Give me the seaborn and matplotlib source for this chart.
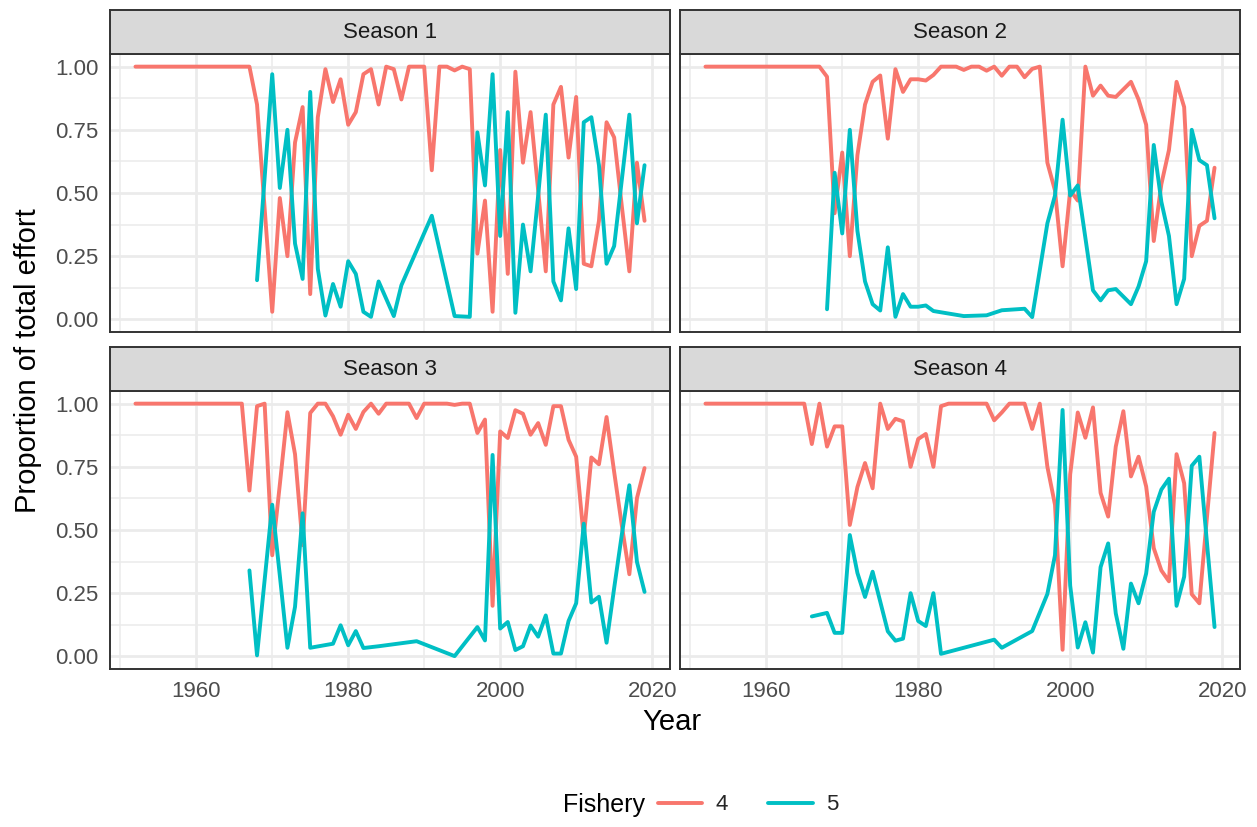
import numpy as np
import pandas as pd
import matplotlib
matplotlib.use("Agg")
import matplotlib.pyplot as plt
import seaborn as sns
from matplotlib.lines import Line2D
from matplotlib.ticker import FixedLocator

sns.set_theme(style="white")
plt.rcParams['font.family'] = ['Liberation Sans', 'DejaVu Sans']

seasons = ["Season 1", "Season 2", "Season 3", "Season 4"]
fisheries = ["4", "5"]
fishery_colors = ["#F8766D", "#00BFC4"]

x_major = [1960, 1980, 2000, 2020]
x_minor = [1950, 1970, 1990, 2010]
y_major = [0.0, 0.25, 0.5, 0.75, 1.0]
y_minor = [0.125, 0.375, 0.625, 0.875]
y_labels = ["0.00", "0.25", "0.50", "0.75", "1.00"]

# ---------------- Season 1 ----------------
s1_f4_years = list(range(1952, 2020))
s1_f4 = [1.0, 1.0, 1.0, 1.0, 1.0, 1.0, 1.0, 1.0, 1.0, 1.0,
         1.0, 1.0, 1.0, 1.0, 1.0, 1.0,
         0.85, 0.44, 0.03, 0.48, 0.25, 0.70, 0.84, 0.10, 0.80, 0.99,
         0.86, 0.95, 0.77, 0.82, 0.97, 0.99, 0.85, 1.00, 0.99, 0.87,
         1.00, 1.00, 1.00, 0.59, 1.00, 1.00, 0.985, 1.00, 0.99, 0.26,
         0.47, 0.03, 0.67, 0.18, 0.98, 0.62, 0.82, 0.51, 0.19, 0.85,
         0.92, 0.64, 0.88, 0.22, 0.21, 0.39, 0.78, 0.72, 0.45, 0.19,
         0.62, 0.39]
s1_f5_years = [1968, 1969, 1970, 1971, 1972, 1973, 1974, 1975, 1976, 1977,
               1978, 1979, 1980, 1981, 1982, 1983, 1984, 1986, 1987, 1991,
               1994, 1996, 1997, 1998, 1999, 2000, 2001, 2002, 2003, 2004,
               2005, 2006, 2007, 2008, 2009, 2010, 2011, 2012, 2013, 2014,
               2015, 2016, 2017, 2018, 2019]
s1_f5 = [0.155, 0.56, 0.97, 0.52, 0.75, 0.30, 0.16, 0.90, 0.20, 0.015,
         0.14, 0.05, 0.23, 0.18, 0.03, 0.01, 0.15, 0.013, 0.135, 0.41,
         0.013, 0.01, 0.74, 0.53, 0.97, 0.33, 0.82, 0.026, 0.375, 0.19,
         0.49, 0.81, 0.15, 0.075, 0.36, 0.12, 0.78, 0.80, 0.61, 0.22,
         0.29, 0.55, 0.81, 0.38, 0.61]

# ---------------- Season 2 ----------------
s2_f4_years = list(range(1952, 2020))
s2_f4 = [1.0, 1.0, 1.0, 1.0, 1.0, 1.0, 1.0, 1.0, 1.0, 1.0,
         1.0, 1.0, 1.0, 1.0, 1.0, 1.0,
         0.96, 0.42, 0.66, 0.25, 0.65, 0.85, 0.94, 0.965, 0.715, 0.99,
         0.90, 0.95, 0.95, 0.945, 0.967, 1.00, 1.00, 1.00, 0.987, 1.00,
         1.00, 0.984, 1.00, 0.964, 1.00, 1.00, 0.958, 0.991, 1.00, 0.62,
         0.51, 0.21, 0.51, 0.47, 1.00, 0.885, 0.925, 0.885, 0.88, 0.91,
         0.94, 0.87, 0.77, 0.31, 0.535, 0.67, 0.94, 0.84, 0.25, 0.37,
         0.39, 0.60]
s2_f5_years = [1968, 1969, 1970, 1971, 1972, 1973, 1974, 1975, 1976, 1977,
               1978, 1979, 1980, 1981, 1982, 1986, 1989, 1991, 1994, 1995,
               1997, 1998, 1999, 2000, 2001, 2003, 2004, 2005, 2006, 2007,
               2008, 2009, 2010, 2011, 2012, 2013, 2014, 2015, 2016, 2017,
               2018, 2019]
s2_f5 = [0.04, 0.58, 0.34, 0.75, 0.35, 0.15, 0.06, 0.035, 0.285, 0.01,
         0.10, 0.05, 0.05, 0.055, 0.033, 0.013, 0.016, 0.036, 0.042, 0.009,
         0.38, 0.49, 0.79, 0.49, 0.53, 0.115, 0.075, 0.115, 0.12, 0.09,
         0.06, 0.13, 0.23, 0.69, 0.465, 0.33, 0.06, 0.16, 0.75, 0.63,
         0.61, 0.40]

# ---------------- Season 3 ----------------
s3_f4_years = list(range(1952, 2020))
s3_f4 = [1.0, 1.0, 1.0, 1.0, 1.0, 1.0, 1.0, 1.0, 1.0, 1.0,
         1.0, 1.0, 1.0, 1.0, 1.0,
         0.656, 0.99, 1.00, 0.40, 0.68, 0.966, 0.80, 0.44, 0.963, 1.00,
         1.00, 0.95, 0.877, 0.956, 0.90, 0.967, 1.00, 0.96, 1.00, 1.00,
         1.00, 1.00, 0.943, 1.00, 1.00, 1.00, 1.00, 0.995, 1.00, 1.00,
         0.884, 0.937, 0.20, 0.89, 0.864, 0.974, 0.96, 0.877, 0.923, 0.837,
         0.99, 0.99, 0.857, 0.79, 0.47, 0.787, 0.76, 0.947, 0.73, 0.52,
         0.325, 0.626, 0.745]
s3_f5_years = [1967, 1968, 1970, 1971, 1972, 1973, 1974, 1975, 1978, 1979,
               1980, 1981, 1982, 1984, 1989, 1994, 1997, 1998, 1999, 2000,
               2001, 2002, 2003, 2004, 2005, 2006, 2007, 2008, 2009, 2010,
               2011, 2012, 2013, 2014, 2015, 2016, 2017, 2018, 2019]
s3_f5 = [0.34, 0.004, 0.60, 0.32, 0.034, 0.196, 0.566, 0.034, 0.05, 0.123,
         0.044, 0.10, 0.033, 0.04, 0.06, 0.001, 0.116, 0.063, 0.797, 0.11,
         0.136, 0.025, 0.04, 0.122, 0.078, 0.162, 0.011, 0.011, 0.14, 0.21,
         0.525, 0.213, 0.236, 0.054, 0.27, 0.48, 0.677, 0.374, 0.255]

# ---------------- Season 4 ----------------
s4_f4_years = list(range(1952, 2020))
s4_f4 = [1.0, 1.0, 1.0, 1.0, 1.0, 1.0, 1.0, 1.0, 1.0, 1.0,
         1.0, 1.0, 1.0, 1.0,
         0.84, 1.00, 0.83, 0.91, 0.91, 0.52, 0.67, 0.765, 0.665, 1.00,
         0.90, 0.94, 0.93, 0.75, 0.86, 0.88, 0.75, 0.99, 1.00, 1.00,
         1.00, 1.00, 1.00, 1.00, 0.934, 0.965, 1.00, 1.00, 1.00, 0.90,
         1.00, 0.75, 0.60, 0.026, 0.72, 0.965, 0.865, 0.985, 0.647, 0.553,
         0.83, 0.97, 0.712, 0.79, 0.672, 0.428, 0.34, 0.297, 0.80, 0.685,
         0.246, 0.21, 0.55, 0.884]
s4_f5_years = [1966, 1968, 1969, 1970, 1971, 1972, 1973, 1974, 1976, 1977,
               1978, 1979, 1980, 1981, 1982, 1983, 1990, 1991, 1995, 1997,
               1998, 1999, 2000, 2001, 2002, 2003, 2004, 2005, 2006, 2007,
               2008, 2009, 2010, 2011, 2012, 2013, 2014, 2015, 2016, 2017,
               2018, 2019]
s4_f5 = [0.158, 0.172, 0.093, 0.093, 0.48, 0.33, 0.235, 0.335, 0.099, 0.062,
         0.07, 0.25, 0.14, 0.12, 0.25, 0.01, 0.066, 0.034, 0.10, 0.247,
         0.40, 0.975, 0.28, 0.035, 0.135, 0.015, 0.353, 0.447, 0.17, 0.03,
         0.288, 0.21, 0.328, 0.572, 0.66, 0.703, 0.20, 0.315, 0.754, 0.79,
         0.45, 0.116]

series = {
    ("Season 1", "4"): (s1_f4_years, s1_f4),
    ("Season 1", "5"): (s1_f5_years, s1_f5),
    ("Season 2", "4"): (s2_f4_years, s2_f4),
    ("Season 2", "5"): (s2_f5_years, s2_f5),
    ("Season 3", "4"): (s3_f4_years, s3_f4),
    ("Season 3", "5"): (s3_f5_years, s3_f5),
    ("Season 4", "4"): (s4_f4_years, s4_f4),
    ("Season 4", "5"): (s4_f5_years, s4_f5),
}
frames = []
for (season, fish), (yrs, vals) in series.items():
    d = pd.DataFrame({"Year": yrs, "Proportion": vals})
    d["Season"] = season
    d["Fishery"] = fish
    frames.append(d)
df = pd.concat(frames, ignore_index=True)

W, H = 1257, 827
fig = plt.figure(figsize=(W / 100, H / 100), dpi=100)
fig.patch.set_facecolor("white")

col_x = [110, 680]
panel_w = 560
row_top = [54, 391]
panel_h = 278
strip_h = 44
border_col = "#333333"
palette = dict(zip(fisheries, fishery_colors))
small_fs = 16
title_fs = 21
legend_title_fs = 18

for i, season in enumerate(seasons):
    r, c = divmod(i, 2)
    x0 = col_x[c]
    y0 = row_top[r]
    ax = fig.add_axes([x0 / W, 1 - (y0 + panel_h) / H, panel_w / W, panel_h / H])
    sub = df[df["Season"] == season]
    sns.lineplot(data=sub, x="Year", y="Proportion", hue="Fishery",
                 hue_order=fisheries, palette=palette, ax=ax,
                 linewidth=2.8, legend=False, estimator=None, sort=True)
    ax.set_xlim(1948.65, 2022.35)
    ax.set_ylim(-0.05, 1.05)
    ax.xaxis.set_major_locator(FixedLocator(x_major))
    ax.xaxis.set_minor_locator(FixedLocator(x_minor))
    ax.yaxis.set_major_locator(FixedLocator(y_major))
    ax.yaxis.set_minor_locator(FixedLocator(y_minor))
    ax.set_yticklabels(y_labels)
    ax.grid(which="major", color="#EBEBEB", linewidth=2.0)
    ax.grid(which="minor", color="#EBEBEB", linewidth=1.1)
    ax.set_axisbelow(True)
    ax.set_facecolor("white")
    for sp in ax.spines.values():
        sp.set_color(border_col)
        sp.set_linewidth(1.4)
    ax.set_xlabel("")
    ax.set_ylabel("")
    ax.tick_params(which="minor", length=0)
    ax.tick_params(which="major", length=5, width=1.2, color=border_col,
                   labelcolor="#4D4D4D", labelsize=small_fs, pad=3.5)
    if r == 0:
        ax.tick_params(axis="x", which="major", length=0, labelbottom=False)
    if c == 1:
        ax.tick_params(axis="y", which="major", length=0, labelleft=False)

    sax = fig.add_axes([x0 / W, 1 - y0 / H, panel_w / W, strip_h / H])
    sax.set_facecolor("#D9D9D9")
    sax.set_xticks([])
    sax.set_yticks([])
    for sp in sax.spines.values():
        sp.set_color(border_col)
        sp.set_linewidth(1.4)
    sax.text(0.5, 0.5, season, ha="center", va="center", fontsize=small_fs,
             color="#1A1A1A", transform=sax.transAxes)

fig.text(28 / W, 1 - 361 / H, "Proportion of total effort", rotation=90,
         ha="center", va="center", fontsize=title_fs, color="black")
fig.text(672 / W, 1 - 722 / H, "Year", ha="center", va="center",
         fontsize=title_fs, color="black")

fig.text(563 / W, 1 - 805 / H, "Fishery", ha="left", va="center",
         fontsize=legend_title_fs, color="black")
handles = [Line2D([0], [0], color=col, lw=2.8) for col in fishery_colors]
fig.legend(handles, fisheries, loc="center left",
           bbox_to_anchor=(638 / W, 1 - 805 / H), ncol=2, frameon=False,
           handlelength=2.0, handletextpad=0.6, columnspacing=1.8,
           fontsize=small_fs)

fig.savefig("out.png", dpi=100, facecolor="white")
